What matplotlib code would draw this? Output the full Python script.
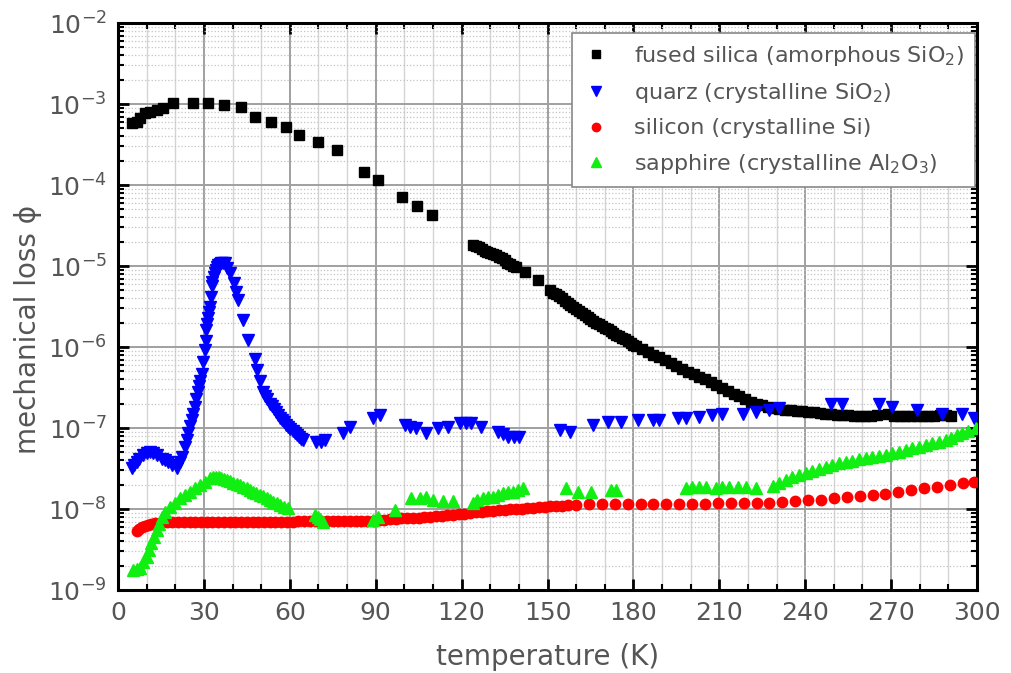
import matplotlib
matplotlib.use('Agg')
import matplotlib.pyplot as plt
from matplotlib.ticker import LogLocator, MultipleLocator, NullFormatter, FixedLocator

# ---------------- data ----------------
fs_T = [4.8, 6.5, 7.7, 9.4, 11.2, 13.5, 15.8, 19.3, 26.1, 31.5, 37.1, 42.8, 47.8, 53.6,
        58.6, 63.2, 69.9, 76.5, 85.8, 90.9, 99.1, 104.4, 109.8,
        124, 125, 126, 127, 128, 129, 130, 131, 132, 133, 134, 135, 136, 137, 138, 139, 142, 146.6,
        151, 152, 153, 154, 155, 156, 157, 158, 159, 160, 161, 162, 163, 164, 165, 166, 167, 168,
        169, 170, 171, 172, 173, 174, 175, 176, 177, 178, 179, 180,
        181, 183, 185, 187, 189, 191, 193, 195, 197, 199, 201, 203, 205, 207, 209, 211,
        213, 215, 217, 219, 221, 223, 225, 227, 229, 231, 233, 235, 237, 239, 241, 243,
        245, 247, 249, 251, 253, 255, 257, 259, 261, 263, 265, 269, 271, 273, 275, 277,
        279, 281, 283, 285, 287, 289, 291]
fs_phi = [5.78e-4, 6.0e-4, 6.65e-4, 7.7e-4, 8.0e-4, 8.4e-4, 8.85e-4, 1.04e-3, 1.04e-3, 1.02e-3,
          9.8e-4, 9.3e-4, 7.0e-4, 6.0e-4, 5.25e-4, 4.1e-4, 3.4e-4, 2.7e-4, 1.44e-4, 1.15e-4,
          7.2e-5, 5.5e-5, 4.27e-5,
          1.82e-5, 1.76e-5, 1.7e-5, 1.62e-5, 1.55e-5, 1.5e-5, 1.46e-5, 1.42e-5, 1.36e-5, 1.3e-5,
          1.24e-5, 1.18e-5, 1.1e-5, 1.05e-5, 1.0e-5, 9.6e-6, 8.5e-6, 6.8e-6,
          5.0e-6, 4.7e-6, 4.5e-6, 4.25e-6, 4.0e-6, 3.75e-6, 3.5e-6, 3.3e-6, 3.1e-6, 2.95e-6,
          2.8e-6, 2.65e-6, 2.5e-6, 2.35e-6, 2.2e-6, 2.1e-6, 2.0e-6, 1.9e-6, 1.8e-6, 1.72e-6,
          1.65e-6, 1.57e-6, 1.5e-6, 1.42e-6, 1.35e-6, 1.3e-6, 1.25e-6, 1.18e-6, 1.12e-6, 1.07e-6,
          1.03e-6, 9.5e-7, 8.7e-7, 8.0e-7, 7.5e-7,
          7.0e-7, 6.4e-7, 5.9e-7, 5.4e-7, 4.9e-7, 4.6e-7, 4.3e-7, 4.0e-7, 3.7e-7, 3.4e-7, 3.1e-7,
          2.85e-7, 2.65e-7, 2.45e-7, 2.28e-7, 2.12e-7, 2.0e-7, 1.9e-7, 1.82e-7, 1.76e-7, 1.72e-7,
          1.68e-7, 1.65e-7, 1.62e-7, 1.6e-7, 1.58e-7, 1.56e-7, 1.52e-7, 1.5e-7, 1.47e-7, 1.45e-7,
          1.44e-7, 1.43e-7, 1.42e-7, 1.42e-7, 1.42e-7, 1.42e-7, 1.43e-7, 1.48e-7, 1.42e-7, 1.4e-7,
          1.4e-7, 1.4e-7, 1.42e-7, 1.42e-7, 1.4e-7, 1.42e-7, 1.43e-7, 1.45e-7, 1.42e-7]

qz_T = [4.8, 5.5, 6.5, 7.5, 8.8, 10, 11.2, 12.3, 13.5, 15.2, 16.5, 17.5, 19, 20.5, 21.5, 22.2,
        23.4, 24, 24.5, 25.1, 25.7, 26.3, 26.9, 27.4, 27.8, 28.2, 28.6, 29.2, 29.8, 30.3, 30.6,
        30.9, 31.2, 31.5, 31.8, 32.1, 32.4, 32.7, 33, 33.5, 33.8, 34.2, 34.6,
        35, 35.5, 36, 36.6, 37.3, 38.2, 39.1, 40.5, 41.2, 42, 43.7, 45.5, 47.8, 48.4, 49.5, 50.7,
        51.4, 52, 53, 53.8, 54.5, 55.2, 55.9, 56.6, 57.3, 58, 58.8, 59.5, 60.2, 61, 61.7, 62.5,
        63.2, 64, 64.6, 69.3, 70.8, 72.2, 78.6, 80.9, 89, 91.4,
        100.1, 102, 104.2, 107.7, 111.7, 115.2, 119.3, 121.5, 123.4, 126.9, 132.7, 134.5, 136.1,
        138.2, 140.2, 154.2, 157.7, 165.8, 171, 175.7, 181.5, 186.7, 189, 195.4, 198.4, 203,
        207.6, 211.1, 218.1, 222.8, 227.4, 231, 248.9, 253, 265.8, 270.4, 279.1, 287.9, 294.8,
        298.9]
qz_phi = [3.2e-8, 3.5e-8, 3.8e-8, 4.2e-8, 4.6e-8, 4.9e-8, 5.1e-8, 4.9e-8, 4.6e-8, 4.2e-8,
          4.0e-8, 3.8e-8, 3.5e-8, 3.2e-8, 3.8e-8, 4.4e-8,
          5.9e-8, 7.1e-8, 8.6e-8, 1.05e-7, 1.26e-7, 1.5e-7, 1.83e-7, 2.3e-7, 2.8e-7, 3.3e-7,
          3.8e-7, 4.7e-7, 6.5e-7, 9.2e-7, 1.2e-6,
          1.62e-6, 1.9e-6, 2.3e-6, 2.7e-6, 3.15e-6, 4.2e-6, 5.6e-6, 6.4e-6, 7.4e-6, 8.2e-6, 9.0e-6,
          9.8e-6,
          1.03e-5, 1.07e-5, 1.08e-5, 1.1e-5, 1.08e-5, 9.5e-6, 8.1e-6, 6.1e-6, 4.8e-6, 3.8e-6,
          2.15e-6, 1.22e-6, 7.2e-7, 5.2e-7, 3.8e-7, 2.8e-7,
          2.5e-7, 2.3e-7, 2.0e-7, 1.85e-7, 1.7e-7, 1.56e-7, 1.44e-7, 1.34e-7, 1.25e-7, 1.17e-7,
          1.09e-7, 1.02e-7, 9.6e-8, 9.1e-8, 8.6e-8, 8.2e-8,
          7.8e-8, 7.4e-8, 7.1e-8, 6.8e-8, 6.8e-8, 7.1e-8, 8.6e-8, 1.04e-7, 1.32e-7, 1.44e-7,
          1.09e-7, 1.04e-7, 9.9e-8, 8.6e-8, 9.9e-8, 1.04e-7, 1.14e-7, 1.14e-7, 1.14e-7, 1.04e-7,
          9.0e-8, 8.4e-8, 7.8e-8, 7.8e-8, 7.8e-8, 9.4e-8, 9.0e-8, 1.09e-7, 1.2e-7, 1.2e-7, 1.26e-7,
          1.26e-7, 1.26e-7, 1.32e-7, 1.32e-7, 1.35e-7, 1.44e-7, 1.5e-7, 1.5e-7, 1.58e-7, 1.67e-7,
          1.75e-7, 2.0e-7, 2.0e-7, 2.0e-7, 1.83e-7, 1.67e-7, 1.5e-7, 1.5e-7, 1.32e-7]

si_T = [6.6, 7.5, 8.5, 9.5, 10.5, 11.5, 13, 15, 17, 19, 21, 23, 25, 27, 29, 31, 33, 35, 37, 39,
        41, 43, 45, 47, 49, 51, 53, 55, 57, 59, 61, 63, 65, 67, 69, 71, 73, 75, 77, 79, 81, 83,
        85, 87, 89, 91, 93, 95, 97, 99, 101, 103, 105, 107, 109, 111, 113, 115, 117, 119, 121,
        123, 125, 127, 129, 131, 133, 135, 137, 139, 141, 143, 145, 147, 149, 151, 153, 155, 157,
        160, 164.5, 169, 173.5, 178, 182.5, 187, 191.5, 196, 200.5, 205, 209.5, 214, 218.5, 223,
        227.5, 232, 236.5, 241, 245.5, 250, 254.5, 259, 263.5, 268, 272.5, 277, 281.5, 286,
        290.5, 295, 299]
si_phi = [5.4e-9, 5.7e-9, 6.0e-9, 6.2e-9, 6.4e-9, 6.55e-9, 6.7e-9, 6.8e-9, 6.85e-9, 6.9e-9,
          6.95e-9, 7.0e-9, 7.0e-9, 7.0e-9, 7.0e-9, 7.0e-9, 7.0e-9, 7.0e-9, 7.0e-9, 7.0e-9,
          7.0e-9, 7.0e-9, 7.0e-9, 7.0e-9, 7.0e-9, 7.0e-9, 7.0e-9, 7.0e-9, 7.0e-9, 7.0e-9,
          7.0e-9, 7.05e-9, 7.05e-9, 7.05e-9, 7.05e-9, 7.05e-9, 7.05e-9, 7.05e-9, 7.05e-9, 7.05e-9,
          7.05e-9, 7.05e-9, 7.1e-9, 7.1e-9, 7.15e-9, 7.25e-9, 7.35e-9, 7.45e-9, 7.55e-9, 7.65e-9,
          7.75e-9, 7.8e-9, 7.85e-9, 7.95e-9, 8.0e-9, 8.1e-9, 8.2e-9, 8.35e-9, 8.5e-9, 8.65e-9,
          8.8e-9, 8.95e-9, 9.1e-9, 9.25e-9, 9.4e-9, 9.55e-9, 9.7e-9, 9.8e-9, 9.9e-9, 1.0e-8,
          1.01e-8, 1.02e-8, 1.03e-8, 1.045e-8, 1.06e-8, 1.075e-8, 1.09e-8, 1.105e-8, 1.12e-8,
          1.13e-8, 1.14e-8, 1.14e-8, 1.14e-8, 1.145e-8, 1.15e-8, 1.15e-8, 1.155e-8, 1.16e-8,
          1.16e-8, 1.165e-8, 1.17e-8, 1.175e-8, 1.18e-8, 1.19e-8, 1.2e-8, 1.22e-8, 1.25e-8,
          1.28e-8, 1.31e-8, 1.35e-8, 1.39e-8, 1.44e-8, 1.49e-8, 1.55e-8, 1.62e-8, 1.72e-8,
          1.8e-8, 1.89e-8, 1.98e-8, 2.07e-8, 2.17e-8]

sa_T = [5.3, 6.5, 7.7, 8.8, 10, 10.8, 11.7, 12.6, 13.5, 14.3, 15.2, 16.5, 18.1, 19.8, 21.6,
        23.3, 25.1, 26.8, 28.6, 30.3, 32.1, 33.2, 34.4, 35.2, 36, 37, 37.9, 39, 40.2, 41.4, 42.6,
        43.8, 44.9, 46, 47.2, 48.3, 49.5, 50.7, 51.9, 53, 54.2, 55.4, 56.5, 58, 59.4,
        68.7, 69.8, 70.7, 71.6, 89, 90.8, 96.6, 102.4, 105.5, 107.7, 110,
        113.5, 117, 123.9, 125.5, 127.4, 129.2, 130.9, 132.7, 134.4, 136.2, 137.9, 139.7, 141.4,
        156.5, 160.6, 165.2, 172.2, 173.9, 198.4, 200.5, 203, 205.5, 208.8, 211, 213.5, 216.5,
        219.3, 222.8, 228.6, 230.9, 233.2, 235.5, 237.8, 240.2, 242.5, 244.8, 247.2, 249.5,
        251.8, 254.2, 256.5, 258.8, 261.1, 263.4, 265.8, 268.1, 270.4, 272.8, 275.1, 277.4,
        279.8, 282.1, 284.4, 286.7, 289, 291, 293, 294.9, 297, 299.5]
sa_phi = [1.77e-9, 1.8e-9, 1.85e-9, 2.2e-9, 2.58e-9, 3.1e-9, 3.77e-9, 4.5e-9, 5.5e-9, 6.6e-9,
          8.0e-9, 9.3e-9, 1.07e-8, 1.2e-8, 1.36e-8, 1.5e-8, 1.64e-8, 1.8e-8, 1.98e-8, 2.18e-8,
          2.39e-8, 2.45e-8, 2.5e-8, 2.45e-8, 2.4e-8, 2.34e-8, 2.28e-8, 2.2e-8, 2.12e-8, 2.05e-8,
          1.98e-8, 1.89e-8, 1.8e-8, 1.72e-8, 1.64e-8, 1.57e-8, 1.5e-8, 1.43e-8, 1.36e-8, 1.3e-8,
          1.23e-8, 1.17e-8, 1.12e-8, 1.07e-8, 1.02e-8,
          8.4e-9, 8.0e-9, 7.5e-9, 7.0e-9, 7.3e-9, 8.0e-9, 9.7e-9, 1.36e-8, 1.38e-8, 1.39e-8,
          1.29e-8, 1.27e-8, 1.24e-8, 1.17e-8, 1.28e-8, 1.36e-8,
          1.4e-8, 1.42e-8, 1.5e-8, 1.56e-8, 1.6e-8, 1.64e-8, 1.72e-8, 1.8e-8, 1.8e-8, 1.64e-8,
          1.64e-8, 1.72e-8, 1.72e-8, 1.8e-8, 1.85e-8, 1.88e-8, 1.85e-8, 1.8e-8, 1.85e-8, 1.88e-8,
          1.86e-8, 1.88e-8, 1.8e-8, 1.92e-8, 2.1e-8, 2.28e-8, 2.45e-8, 2.6e-8, 2.76e-8, 2.95e-8,
          3.15e-8, 3.33e-8, 3.5e-8, 3.65e-8, 3.84e-8, 3.95e-8, 4.1e-8, 4.22e-8, 4.35e-8, 4.5e-8,
          4.64e-8, 4.85e-8, 5.1e-8, 5.35e-8, 5.6e-8, 5.9e-8, 6.17e-8, 6.45e-8, 6.75e-8, 7.1e-8,
          7.6e-8, 8.1e-8, 8.6e-8, 9.3e-8, 1.0e-7]

labels = ['fused silica (amorphous SiO$_2$)',
          'quarz (crystalline SiO$_2$)',
          'silicon (crystalline Si)',
          'sapphire (crystalline Al$_2$O$_3$)']
x_ticks = [0, 30, 60, 90, 120, 150, 180, 210, 240, 270, 300]

# ---------------- figure ----------------
TXT = '#555555'
plt.rcParams['font.family'] = ['DejaVu Sans']
plt.rcParams['mathtext.fontset'] = 'dejavusans'

fig = plt.figure(figsize=(10.11, 6.73), dpi=100)
ax = fig.add_axes([0.1167, 0.1233, 0.8497, 0.8425])

ax.plot(fs_T, fs_phi, 's', color='black', ms=7.5, mec='black', label=labels[0], zorder=3)
ax.plot(qz_T, qz_phi, 'v', color='#0000ff', ms=8.5, mec='#0000ff', label=labels[1], zorder=3)
ax.plot(si_T, si_phi, 'o', color='#ff0000', ms=7.5, mec='#ff0000', label=labels[2], zorder=3)
ax.plot(sa_T, sa_phi, '^', color='#11ee11', ms=8.5, mec='#11ee11', label=labels[3], zorder=3)

ax.set_yscale('log')
ax.set_xlim(0, 300)
ax.set_ylim(1e-9, 1e-2)
ax.xaxis.set_major_locator(FixedLocator(x_ticks))
ax.xaxis.set_minor_locator(MultipleLocator(10))
ax.yaxis.set_major_locator(LogLocator(base=10, numticks=20))
ax.yaxis.set_minor_locator(LogLocator(base=10, subs=range(2, 10), numticks=20))
ax.yaxis.set_minor_formatter(NullFormatter())

ax.grid(True, which='major', color='#a0a0a0', lw=1.4, zorder=0)
ax.grid(True, which='minor', axis='x', color='#d4d4d4', lw=1.0, zorder=0)
ax.grid(True, which='minor', axis='y', color='#c4c4c4', lw=0.9, ls=':', zorder=0)
ax.set_axisbelow(True)

ax.tick_params(which='both', direction='in', top=True, right=True, colors='black',
               labelcolor=TXT, labelsize=18)
ax.tick_params(which='major', length=8, width=2)
ax.tick_params(which='minor', length=4, width=1.5)
ax.tick_params(axis='x', which='major', pad=8)
ax.tick_params(axis='y', which='major', pad=8)
for s in ax.spines.values():
    s.set_linewidth(2.2)
    s.set_color('black')

ax.set_xlabel('temperature (K)', fontsize=20, color=TXT)
ax.set_ylabel('mechanical loss \u03d5', fontsize=20, color=TXT)
ax.xaxis.set_label_coords(0.5, -0.093)
ax.yaxis.set_label_coords(-0.088, 0.46)

leg = ax.legend(loc='upper right', bbox_to_anchor=(0.998, 0.983), fontsize=16,
                frameon=True, fancybox=False, edgecolor='#888888', framealpha=1,
                handlelength=1.2, handletextpad=1.1, labelspacing=0.6,
                borderpad=0.5, markerscale=0.8, borderaxespad=0)
leg.get_frame().set_linewidth(1.2)
for t in leg.get_texts():
    t.set_color(TXT)

fig.savefig('out.png', dpi=100)
